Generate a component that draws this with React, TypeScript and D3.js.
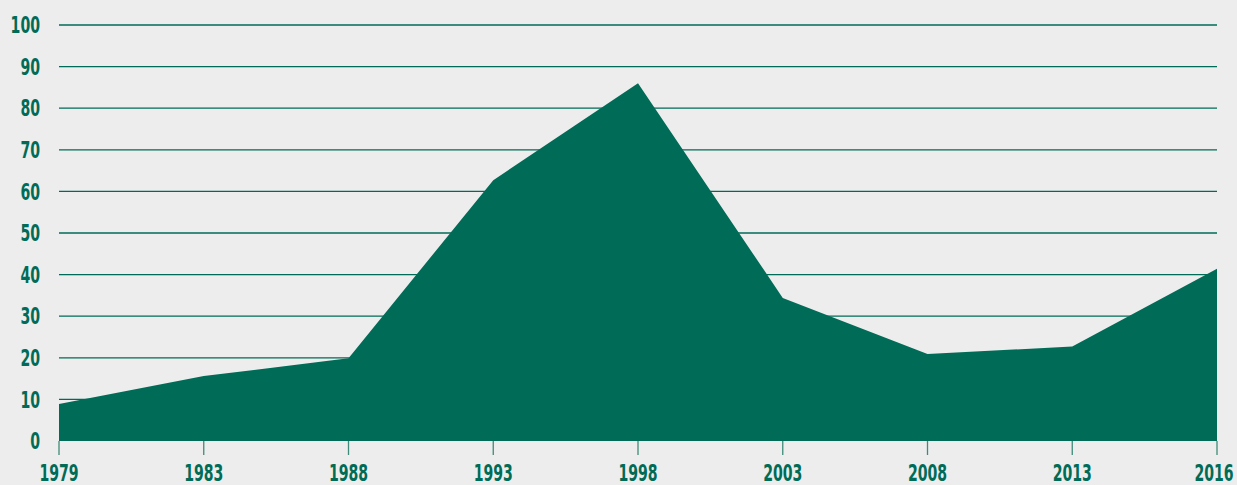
import React from 'react';
import * as d3 from 'd3';

const years = ['1979', '1983', '1988', '1993', '1998', '2003', '2008', '2013', '2016'];
const values = [8.9, 15.6, 19.9, 62.7, 86.0, 34.4, 20.9, 22.7, 41.4];
const yTicks = [0, 10, 20, 30, 40, 50, 60, 70, 80, 90, 100];

const W = 1237;
const H = 485;
const margin = { top: 25, right: 20, bottom: 44, left: 59 };
const green = '#006b57';
const font = '"DejaVu Sans Condensed", "DejaVu Sans", sans-serif';
// condensed digits are about 10px wide in the original
const digitW = 9.8;

export default function App() {
  const x = d3.scalePoint<string>()
    .domain(years)
    .range([margin.left, W - margin.right]);
  const y = d3.scaleLinear()
    .domain([0, 100])
    .range([H - margin.bottom, margin.top]);

  const area = d3.area<number>()
    .x((_, i) => x(years[i]) as number)
    .y0(y(0))
    .y1(d => y(d));

  const base = y(0);

  return (
    <svg width={W} height={H} style={{ position: 'absolute', left: 0, top: 0, background: '#ededed' }}>
      {/* gridlines + y labels */}
      {yTicks.map(t => (
        <g key={t}>
          {t > 0 && (
            <line x1={margin.left} x2={W - margin.right} y1={y(t)} y2={y(t)}
              stroke={green} strokeWidth={1.3} />
          )}
          <text x={40} y={y(t)} dy="0.36em" textAnchor="end"
            fontFamily={font} fontWeight="bold" fontSize={23} fill={green}
            textLength={String(t).length * digitW} lengthAdjust="spacingAndGlyphs">{t}</text>
        </g>
      ))}
      <path d={area(values) ?? ''} fill={green} />
      {/* x ticks + labels */}
      {years.map(yr => (
        <g key={yr} transform={`translate(${x(yr)},0)`}>
          <line y1={base} y2={base + 14} stroke="#3f8a78" strokeWidth={1.3} />
          <text x={yr === '2016' ? -3 : 0} y={481} textAnchor="middle" fontFamily={font} fontWeight="bold"
            fontSize={23} fill={green}
            textLength={yr.length * digitW} lengthAdjust="spacingAndGlyphs">{yr}</text>
        </g>
      ))}
    </svg>
  );
}
